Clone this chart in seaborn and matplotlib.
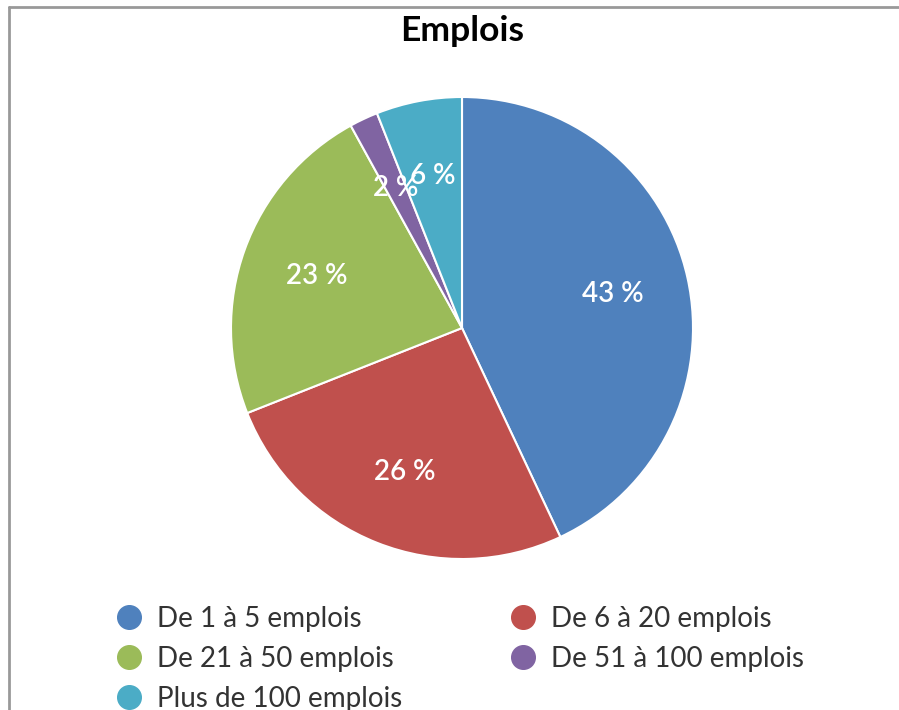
import matplotlib
matplotlib.use("Agg")
import matplotlib.pyplot as plt
from matplotlib.lines import Line2D
import seaborn as sns

# data
categories = [
    "De 1 à 5 emplois",
    "De 6 à 20 emplois",
    "De 21 à 50 emplois",
    "De 51 à 100 emplois",
    "Plus de 100 emplois",
]
shares = [43, 26, 23, 2, 6]
colors = ["#4F81BD", "#C0504D", "#9BBB59", "#8064A2", "#4BACC6"]

sns.set_theme(style="white")
plt.rcParams["font.family"] = ["Lato", "DejaVu Sans"]

W, H = 899, 710
fig = plt.figure(figsize=(W / 100, H / 100), dpi=100)
fig.patch.set_facecolor("white")

# pie centre (462, 328) px, radius 231 px
cx, cy, r = 462, 328, 231
ax = fig.add_axes([(cx - r) / W, (H - cy - r) / H, 2 * r / W, 2 * r / H])
wedges, texts, autotexts = ax.pie(
    shares,
    colors=sns.color_palette(colors),
    startangle=90,
    counterclock=False,
    autopct=lambda p: f"{p:.0f} %",
    pctdistance=0.67,
    wedgeprops=dict(edgecolor="white", linewidth=1.5),
    textprops=dict(color="white", fontsize=20, fontweight="semibold"),
)
ax.set_xlim(-1, 1)
ax.set_ylim(-1, 1)
ax.set_aspect("equal")

fig.text(cx / W, 1 - 31 / H, "Emplois", ha="center", va="center",
         fontsize=25.5, fontweight="bold", color="black")

# frame lines (top and left)
fig.add_artist(Line2D([9 / W, 1], [1 - 7 / H, 1 - 7 / H], color="#999999", lw=2))
fig.add_artist(Line2D([9 / W, 9 / W], [0, 1 - 7 / H], color="#999999", lw=2))

# legend, filled row-wise like the reference
handles = [Line2D([], [], marker="o", linestyle="", markersize=17,
                  markerfacecolor=c, markeredgecolor=c) for c in colors]
order = [0, 2, 4, 1, 3]
fig.legend(
    [handles[i] for i in order],
    [categories[i] for i in order],
    loc="upper left",
    bbox_to_anchor=(103 / W, 1 - 592 / H),
    ncol=2,
    frameon=False,
    fontsize=20,
    handlelength=0.9,
    handletextpad=0.55,
    columnspacing=3.9,
    labelspacing=0.5,
    borderpad=0,
    labelcolor="#333333",
)

fig.savefig("out.png", dpi=100)
